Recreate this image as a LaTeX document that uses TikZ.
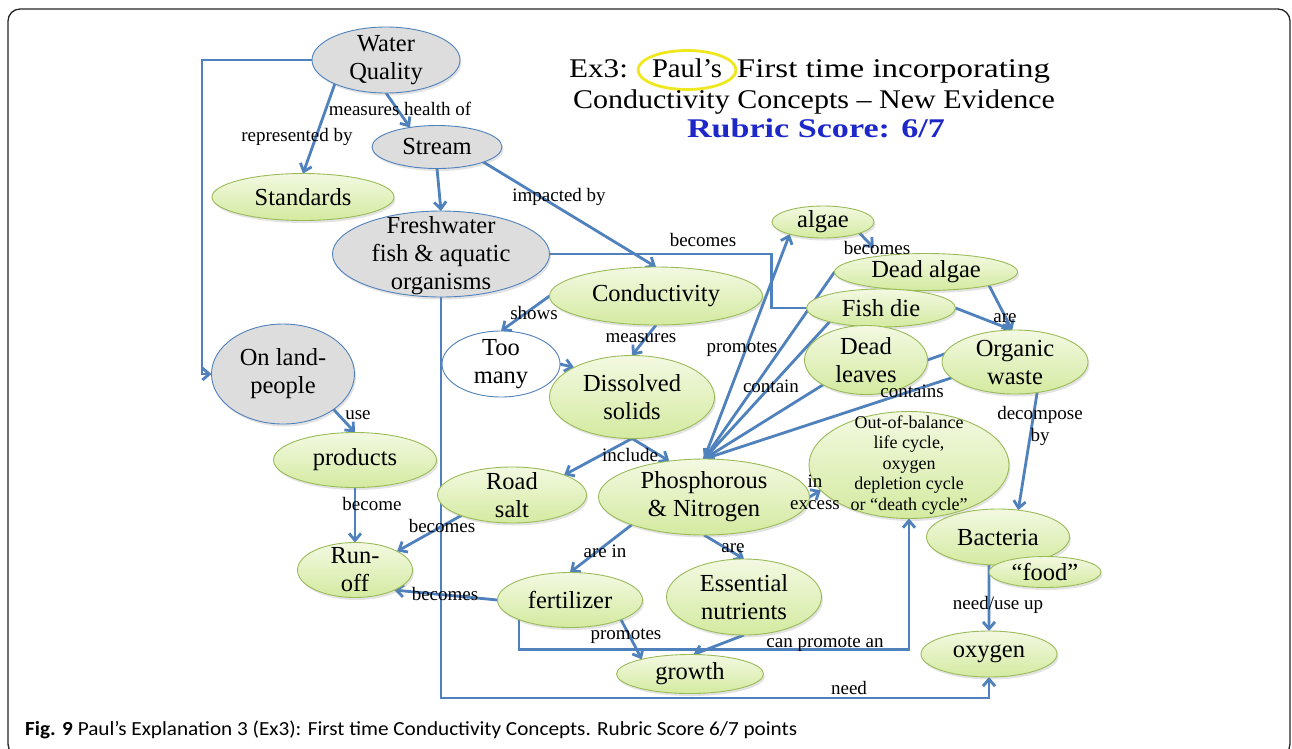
\documentclass[tikz,border=0pt]{standalone}
\usepackage{graphicx}
\usepackage{fontspec}
\setmainfont{Liberation Serif}
\newfontfamily\capfont{Carlito}
\usetikzlibrary{shapes.geometric,arrows.meta,shadows,calc}
\definecolor{lnblue}{RGB}{79,129,189}
\definecolor{grayfill}{RGB}{221,221,221}
\definecolor{grntop}{RGB}{243,249,226}
\definecolor{grnbot}{RGB}{212,234,160}
\definecolor{grnline}{RGB}{155,187,89}
\definecolor{rubricblue}{RGB}{30,40,200}
\definecolor{ringyel}{RGB}{240,232,30}
\pgfdeclarelayer{back}
\pgfdeclarelayer{bg}
\pgfsetlayers{back,bg,main}
\begin{document}
\begin{tikzpicture}[x=1pt,y=-1pt,
  basenode/.style={ellipse, inner sep=0pt, outer sep=0pt, line width=0.9pt},
  graynode/.style={basenode, draw=lnblue, fill=grayfill,
     drop shadow={opacity=0.22, shadow xshift=1.5pt, shadow yshift=-2.5pt}},
  whitenode/.style={basenode, draw=lnblue, fill=white},
  greennode/.style={basenode, draw=grnline, top color=grntop, bottom color=grnbot,
     drop shadow={opacity=0.22, shadow xshift=1.5pt, shadow yshift=-2.5pt}},
  ntxt/.style={font=\fontsize{24.5}{28}\selectfont, align=center, inner sep=0pt},
  stxt/.style={font=\fontsize{18}{20.5}\selectfont, align=center, inner sep=0pt},
  elbl/.style={font=\fontsize{19}{22}\selectfont, align=center, inner sep=0pt},
  conn/.style={draw=lnblue, line width=2.8pt},
  arr/.style={conn, -{Straight Barb[length=7pt,width=12pt]}},
  titletxt/.style={font=\fontsize{27}{30}\selectfont, inner sep=0pt, anchor=base}
]
\useasboundingbox (0,0) rectangle (1292,748);
\begin{pgfonlayer}{back}
\fill[white] (0,0) rectangle (1292,748);
\draw[line width=1.3pt, rounded corners=12pt, black!85] (8,756) rectangle (1290,9);
\end{pgfonlayer}

% title
\node[ellipse, draw=ringyel, line width=2.8pt, minimum width=98pt, minimum height=39pt, inner sep=0pt] (ring) at (687,70) {};
\node[titletxt] (t1a) at (598.5,77) {\resizebox{59pt}{\height}{Ex3:}};
\node[titletxt] (t1b) at (687,77) {\resizebox{70pt}{\height}{Paul’s}};
\node[titletxt] (t1c) at (893.5,77) {\resizebox{313pt}{\height}{First time incorporating}};
\node[titletxt] (t2) at (814,108) {\resizebox{482pt}{\height}{Conductivity Concepts – New Evidence}};
\node[titletxt, text=rubricblue] (t3) at (816,137) {\resizebox{258pt}{\height}{\bfseries Rubric Score: 6/7}};

% concept nodes
\node[graynode, minimum width=148pt, minimum height=66pt, label={[ntxt]center:{Water\\Quality}}] (wq) at (386,60) {};
\node[graynode, minimum width=130pt, minimum height=43pt, label={[ntxt]center:{Stream}}] (stream) at (437,147) {};
\node[greennode, minimum width=182pt, minimum height=47pt, label={[ntxt]center:{Standards}}] (standards) at (303,197) {};
\node[graynode, minimum width=217pt, minimum height=86pt, label={[ntxt,yshift=-2pt]center:{Freshwater\\fish \& aquatic\\organisms}}] (fresh) at (441,254) {};
\node[graynode, minimum width=143pt, minimum height=100pt, label={[ntxt]center:{On land-\\people}}] (land) at (283,374) {};
\node[greennode, minimum width=163pt, minimum height=55pt, label={[ntxt]center:{products}}] (products) at (355,460) {};
\node[greennode, minimum width=115pt, minimum height=55pt, label={[ntxt]center:{Run-\\off}}] (runoff) at (355,570) {};
\node[whitenode, minimum width=118pt, minimum height=66pt, label={[ntxt]center:{Too\\many}}] (toomany) at (501,364) {};
\node[greennode, minimum width=213pt, minimum height=58pt, label={[ntxt]center:{Conductivity}}] (cond) at (656,296) {};
\node[greennode, minimum width=165pt, minimum height=83pt, label={[ntxt]center:{Dissolved\\solids}}] (dissolved) at (632,397) {};
\node[greennode, minimum width=149pt, minimum height=56pt, label={[ntxt]center:{Road\\salt}}] (roadsalt) at (512,495) {};
\node[greennode, minimum width=211pt, minimum height=76pt, label={[ntxt]center:{Phosphorous\\\& Nitrogen}}] (phos) at (704,497) {};
\node[greennode, minimum width=145pt, minimum height=55pt, label={[ntxt]center:{fertilizer}}] (fert) at (570,600) {};
\node[greennode, minimum width=155pt, minimum height=76pt, label={[ntxt]center:{Essential\\nutrients}}] (essential) at (744,597) {};
\node[greennode, minimum width=147pt, minimum height=39pt, label={[ntxt]center:{growth}}] (growth) at (690,674) {};
\node[greennode, minimum width=102pt, minimum height=32pt, label={[ntxt]center:{algae}}] (algae) at (823,222) {};
\node[greennode, minimum width=183pt, minimum height=37pt, label={[ntxt]center:{Dead algae}}] (deadalgae) at (926,272) {};
\node[greennode, minimum width=149pt, minimum height=38pt, label={[ntxt]center:{Fish die}}] (fishdie) at (881,308) {};
\node[greennode, minimum width=123pt, minimum height=69pt, label={[ntxt]center:{Dead\\leaves}}] (deadleaves) at (866,360) {};
\node[greennode, minimum width=146pt, minimum height=64pt, label={[ntxt]center:{Organic\\waste}}] (organic) at (1015,362) {};
\node[greennode, minimum width=200pt, minimum height=107pt, label={[stxt]center:{Out-of-balance\\life cycle,\\oxygen\\depletion cycle\\or “death cycle”}}] (outbal) at (909,465) {};
\node[greennode, minimum width=143pt, minimum height=56pt, label={[ntxt]center:{Bacteria}}] (bacteria) at (998,537) {};
\node[greennode, minimum width=112pt, minimum height=31pt, label={[ntxt]center:{“food”}}] (food) at (1045,572) {};
\node[greennode, minimum width=136pt, minimum height=46pt, label={[ntxt]center:{oxygen}}] (oxygen) at (989,654) {};

% connectors
\begin{pgfonlayer}{bg}
\draw[arr] (wq.205) -- (standards.north);
\draw[arr] (wq.south) -- (stream.144);
\draw[arr] (stream.south) -- (fresh.north);
\draw[arr] (stream.-18) -- (cond.north);
\draw[conn] (fresh.east) -- ++(222,0) |- (fishdie.west);
\draw[arr] (fresh.south) -- ++(0,401) -| (oxygen.south);
\draw[arr] (wq.west) -- ++(-110,0) |- (land.west);
\draw[arr] (land.-35) -- (products.north);
\draw[arr] (products.south) -- (runoff.north);
\draw[arr] (roadsalt.202) -- (runoff.24);
\draw[arr] (fert.west) -- (runoff.-27);
\draw[arr] (cond.west) -- (toomany.north);
\draw[arr] (toomany.east) -- (dissolved.153);
\draw[arr] (cond.south) -- (dissolved.north);
\draw[arr] (dissolved.south) -- (roadsalt.21);
\draw[arr] (dissolved.south) -- (phos.134);
\draw[arr] (phos.201) -- (fert.north);
\draw[arr] (phos.south) -- (essential.north);
\draw[arr] (fert.-21) -- (growth.163);
\draw[arr] (fert.201) -- ++(0,30) -| (outbal.south);
\draw[arr] (essential.south) -- (growth.80);
\draw[arr] (phos.east) -- (outbal.196);
\draw[arr] (phos.north) -- (algae.200);
\draw[arr] (deadalgae.west) -- (phos.north);
\draw[arr] (fishdie.195) -- (phos.north);
\draw[arr] (deadleaves.210) -- (phos.north);
\draw[arr] (organic.194) -- (phos.north);
\draw[arr, shorten >=11pt] (algae.-17) -- (deadalgae.160);
\draw[arr] (deadalgae.-12) -- (organic.95);
\draw[arr] (fishdie.east) -- (organic.95);
\draw[arr] (deadleaves.east) -- (organic.95);
\draw[arr] (organic.-54) -- (bacteria.53);
\draw[arr] (bacteria.252) -- (oxygen.north);
\end{pgfonlayer}

% connector labels
\node[elbl] (l1) at (297,137) {represented by};
\node[elbl] (l2) at (400,109) {measures health of};
\node[elbl] (l3) at (559,197) {impacted by};
\node[elbl] (l4) at (703,240) {becomes};
\node[elbl] (l5) at (849,688) {need};
\node[elbl] (l6) at (358,415) {use};
\node[elbl] (l7) at (372,504) {become};
\node[elbl] (l8) at (442,526) {becomes};
\node[elbl] (l9) at (445,594) {becomes};
\node[elbl] (l10) at (534,313) {shows};
\node[elbl] (l11) at (641,338) {measures};
\node[elbl] (l12) at (630,455) {include};
\node[elbl] (l13) at (605,551) {are in};
\node[elbl] (l14) at (733,548) {are};
\node[elbl] (l15) at (626,636) {promotes};
\node[elbl] (l16) at (825,644) {can promote an};
\node[elbl] (l17) at (815,492) {in\\excess};
\node[elbl] (l19) at (742,349) {promotes};
\node[elbl] (l20) at (771,386) {contain};
\node[elbl] (l21) at (912,391) {contains};
\node[elbl] (l22) at (877,248) {becomes};
\node[elbl] (l23) at (1005,318) {are};
\node[elbl] (l24) at (1040,426) {decompose\\by};
\node[elbl] (l25) at (998,605) {need/use up};

% caption
\node[anchor=base west, inner sep=0pt] (cap) at (25,735) {\resizebox{772pt}{\height}{\capfont\fontsize{20}{24}\selectfont\textbf{Fig. 9} Paul’s Explanation 3 (Ex3): First time Conductivity Concepts. Rubric Score 6/7 points}};
\end{tikzpicture}
\end{document}
